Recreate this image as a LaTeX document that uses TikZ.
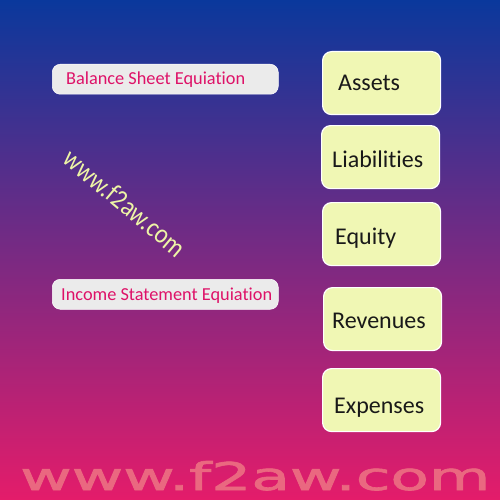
\documentclass[tikz,border=0pt]{standalone}
\usepackage{fontspec}
\setmainfont[Ligatures=NoCommon]{Carlito}
\newfontfamily\wmfont[FakeBold=1.6]{DejaVu Sans}
\definecolor{bgtop}{RGB}{10,56,156}
\definecolor{bgbot}{RGB}{228,28,106}
\definecolor{ybox}{RGB}{240,247,180}
\definecolor{gbox}{RGB}{235,235,235}
\definecolor{pinktxt}{RGB}{222,18,104}
\definecolor{wmyellow}{RGB}{238,245,166}
\definecolor{wmpink}{RGB}{234,104,128}
\tikzset{
  yellowbox/.style={draw=white, line width=1.2pt, fill=ybox, rounded corners=9pt,
    minimum width=118pt, minimum height=63pt, inner sep=0pt},
  graybox/.style={draw=white, line width=0.5pt, fill=gbox, rounded corners=8pt,
    minimum width=226pt, minimum height=30pt, inner sep=0pt},
  boxlbl/.style={anchor=base west, inner sep=0pt, text=black!90, font=\fontsize{24}{28}\selectfont},
  eqlbl/.style={anchor=base west, inner sep=0pt, text=pinktxt, font=\fontsize{18.3}{22}\selectfont},
}
\begin{document}
\begin{tikzpicture}[x=1pt,y=-1pt]
\useasboundingbox (0,0) rectangle (500,500);
\fill[top color=bgtop, bottom color=bgbot] (0,0) rectangle (500,500);
% equation boxes
\node[graybox, anchor=north west] (bsbox) at (52,64) {};
\node[eqlbl] (bs) at (66,85) {Balance Sheet Equiation};
\node[graybox, anchor=north west] (isbox) at (52,279) {};
\node[eqlbl] (is) at (61,300) {Income Statement Equiation};
% yellow boxes
\node[yellowbox, anchor=north west] (assetsbox) at (322,51) {};
\node[boxlbl] (assets) at (338,91) {Assets};
\node[yellowbox, anchor=north west] (liabbox) at (321,125) {};
\node[boxlbl] (liab) at (332,167) {Liabilities};
\node[yellowbox, anchor=north west] (equitybox) at (322,202) {};
\node[boxlbl] (equity) at (335,244) {Equity};
\node[yellowbox, anchor=north west] (revbox) at (323,287) {};
\node[boxlbl] (rev) at (332,328) {Revenues};
\node[yellowbox, anchor=north west] (expbox) at (322,368) {};
\node[boxlbl] (exp) at (334,413) {Expenses};
% watermarks
\node[anchor=center, rotate=-40, inner sep=0pt, text=wmyellow] (wm1) at (125,203) {\scalebox{1}[1.15]{\fontsize{24}{28}\selectfont www.f2aw.com}};
\node[anchor=base west, inner sep=0pt, text=wmpink] (wm2) at (20,490) {\resizebox{470pt}{29pt}{\wmfont www.f2aw.com}};
\end{tikzpicture}
\end{document}
